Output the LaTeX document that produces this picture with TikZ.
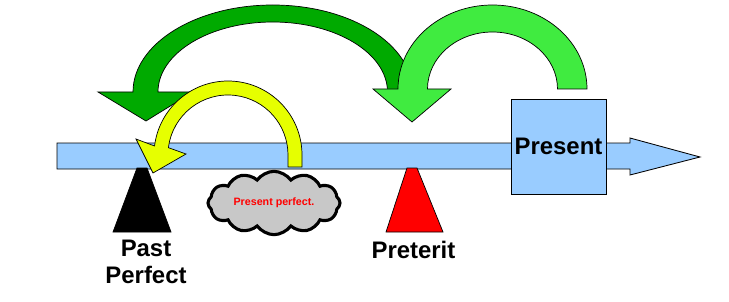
\documentclass[tikz,border=0pt]{standalone}
\usepackage{fontspec}
\setmainfont{Liberation Sans}
\usepackage{xcolor}
\usetikzlibrary{calc}
\usetikzlibrary{shapes.symbols}
\definecolor{LineBlue}{RGB}{153,204,255}
\definecolor{ArcDark}{RGB}{0,170,0}
\definecolor{ArcLight}{RGB}{64,235,64}
\definecolor{ArcYellow}{RGB}{230,255,0}
\definecolor{CloudGray}{RGB}{200,200,200}
\tikzset{
	timeline/.style={draw=black, line width=0.6pt, fill=LineBlue},
	bendarrow/.style={draw=black, line width=0.5pt},
	tense/.style={draw=black, line width=0.5pt},
	lab/.style={font=\fontsize{17}{19.1}\selectfont\bfseries, inner sep=0pt, align=center}
}

\begin{document}
\begin{tikzpicture}[x=0.025cm, y=0.025cm]
		\useasboundingbox (0,0) rectangle (729,-302);
		\draw[timeline] (57,-143) -- (630,-143) -- (630,-138) -- (700,-157) -- (630,-175) -- (630,-169) -- (57,-169) -- cycle;
		\node[timeline, rectangle, minimum width=2.375cm, minimum height=2.375cm, inner sep=0pt,
			font=\fontsize{17}{19.1}\selectfont\bfseries] (present) at (558.5,-146.5) {Present};
		\filldraw[tense, fill=black] (137,-168) -- (147,-168) -- (171,-232) -- (113,-232) -- cycle;
		\filldraw[tense, fill=red] (407,-168) -- (417,-168) -- (443,-232) -- (386,-232) -- cycle;
		\node[lab, anchor=north] (pastperf) at (146,-240) {Past\\Perfect};
		\node[lab, anchor=base] (preterit) at (413.5,-258) {Preterit};
		\node[cloud, cloud puffs=12, cloud puff arc=110, aspect=2.3, draw=black, line width=2.2pt,
			fill=CloudGray, minimum width=3.3cm, minimum height=1.4cm, inner sep=0pt, text=red,
			font=\fontsize{7.6}{9}\selectfont\bfseries] (perfcloud) at (274,-203) {Present perfect.};
		\coordinate (yc) at (228,-155);
		\filldraw[bendarrow, fill=ArcDark] (412.5,-92) arc[start angle=0, end angle=180, x radius=139.75, y radius=87]
			-- (98,-92) -- (146,-121) -- (193,-92) -- (158,-92)
			arc[start angle=180, end angle=0, x radius=114.75, y radius=70] -- cycle;
		\filldraw[bendarrow, fill=ArcLight] (587,-89) arc[start angle=0, end angle=180, x radius=94.5, y radius=84]
			-- (373,-89) -- (412,-122) -- (451,-89) -- (427.5,-89)
			arc[start angle=180, end angle=0, x radius=65, y radius=57] -- cycle;
		\filldraw[bendarrow, fill=ArcYellow] (302,-167) -- (302,-155) arc[start angle=0, end angle=173, radius=74]
			-- (136,-139) -- (153,-173) -- (186,-154) -- ($(yc)+(173:60)$)
			arc[start angle=173, end angle=0, radius=60] -- (288,-167) -- cycle;
	\end{tikzpicture}
\end{document}
